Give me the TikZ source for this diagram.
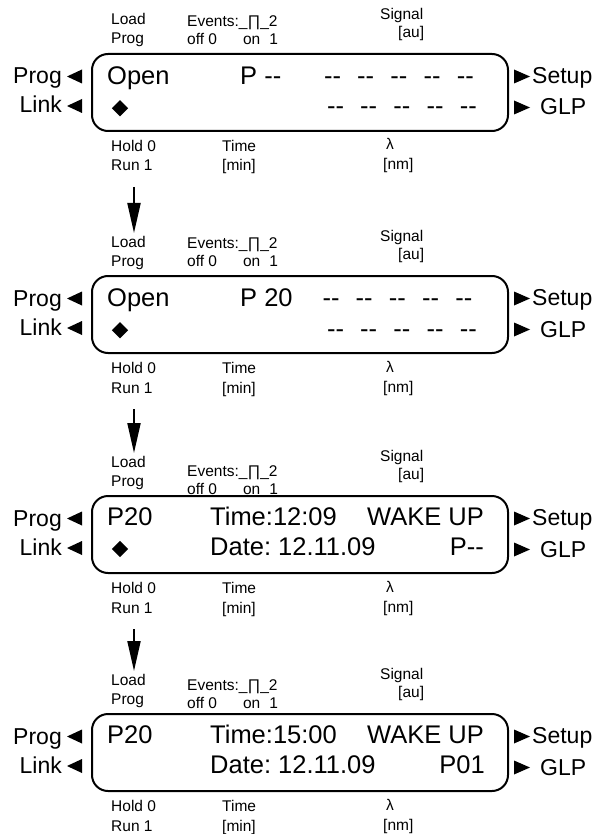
\documentclass[tikz,border=0pt]{standalone}
\usepackage{fontspec}
\setmainfont{Liberation Sans}
\usetikzlibrary{arrows.meta,shapes.geometric}
\frenchspacing

\begin{document}
\begin{tikzpicture}[x=1pt, y=-1pt,
    small/.style={font=\fontsize{15.5}{15.5}\selectfont, inner sep=0pt, anchor=base west},
    big/.style={font=\fontsize{25.5}{25.5}\selectfont, inner sep=0pt, anchor=base west},
    side/.style={font=\fontsize{23}{23}\selectfont, inner sep=0pt, anchor=base west},
    screen/.style={draw, line width=2pt, rounded corners=16pt, minimum width=416pt,
      minimum height=77pt, anchor=north west},
    cursor/.style={diamond, fill, inner sep=0pt, minimum size=16.5pt},
    flow/.style={line width=2pt, -{Triangle[length=30pt, width=13pt]}}]
  \useasboundingbox (0,0) rectangle (597,834);

  % frame, keys and axis labels of every display
  \foreach \i/\dy/\ev in {1/0/27, 2/222/26, 3/442/34, 4/660/30} {
    \begin{scope}[shift={(0,\dy)}]
      \node[screen] (scr\i) at (91,53) {};
      \node[small] (load\i) at (111,25) {Load};
      \node[small] (prog\i) at (111,44) {Prog};
      \node[small] (ev\i) at (187,\ev) {Events:\_∏\_2};
      \node[small] (off\i) at (187,\ev+18) {off 0\hspace{26pt}on\hspace{9pt}1};
      \node[small] (sig\i) at (380,19.5) {Signal};
      \node[small] (au\i) at (398,37.5) {[au]};
      \node[small] (hold\i) at (111,151.5) {Hold 0};
      \node[small] (run\i) at (111,171) {Run 1};
      \node[small] (time\i) at (222,151.5) {Time};
      \node[small] (min\i) at (222,171) {[min]};
      \node[small, anchor=base] (lam\i) at (390,150) {λ};
      \node[small] (nm\i) at (383,170) {[nm]};
      \node[side, anchor=base east] (kprog\i) at (62,84) {Prog};
      \node[side, anchor=base east] (klink\i) at (62,113) {Link};
      \node[side] (kset\i) at (532,83.5) {Setup};
      \node[side] (kglp\i) at (540,115) {GLP};
      \fill (67,76.5) -- (82,69.5) -- (82,83.5) -- cycle;
      \fill (67,106) -- (82,99) -- (82,113) -- cycle;
      \fill (530,76.5) -- (514,69.5) -- (514,83.5) -- cycle;
      \fill (530,107.5) -- (514,100.5) -- (514,114.5) -- cycle;
      \coordinate (in\i) at (134,11);
      \coordinate (out\i) at (134,187);
    \end{scope}
  }

  % display 1
  \node[big] (txa1) at (107,84.5) {Open};
  \node[big] (txb1) at (240,84.5) {P -{}-};
  \foreach \x in {0,...,4} {
    \node[big, anchor=base] (sa1\x) at (332.5+33.2*\x,84.5) {-{}-};
    \node[big, anchor=base] (sb1\x) at (335.5+33.2*\x,115) {-{}-};
  }
  \node[cursor] (dm1) at (120,108.3) {};

  % display 2
  \node[big] (txa2) at (107,306.5) {Open};
  \node[big] (txb2) at (240,306.5) {P 20};
  \foreach \x in {0,...,4} {
    \node[big, anchor=base] (sa2\x) at (331+33.2*\x,306.5) {-{}-};
    \node[big, anchor=base] (sb2\x) at (335.5+33.2*\x,337) {-{}-};
  }
  \node[cursor] (dm2) at (120,330.3) {};

  % display 3
  \node[big] (txa3) at (107,525) {P20};
  \node[big] (txb3) at (210,525) {Time:12:09};
  \node[big, anchor=base east] (txc3) at (484,525) {WAKE UP};
  \node[big] (txd3) at (210,555) {Date: 12.11.09};
  \node[big, anchor=base east] (txe3) at (484,555) {P-{}-};
  \node[cursor] (dm3) at (120,549) {};

  % display 4
  \node[big] (txa4) at (107,743) {P20};
  \node[big] (txb4) at (210,743) {Time:15:00};
  \node[big, anchor=base east] (txc4) at (484,743) {WAKE UP};
  \node[big] (txd4) at (210,773) {Date: 12.11.09};
  \node[big, anchor=base east] (txe4) at (485,773) {P01};

  \draw[flow] (out1) -- (in2);
  \draw[flow] (out2) -- (in3);
  \draw[flow] (out3) -- (in4);
\end{tikzpicture}
\end{document}
